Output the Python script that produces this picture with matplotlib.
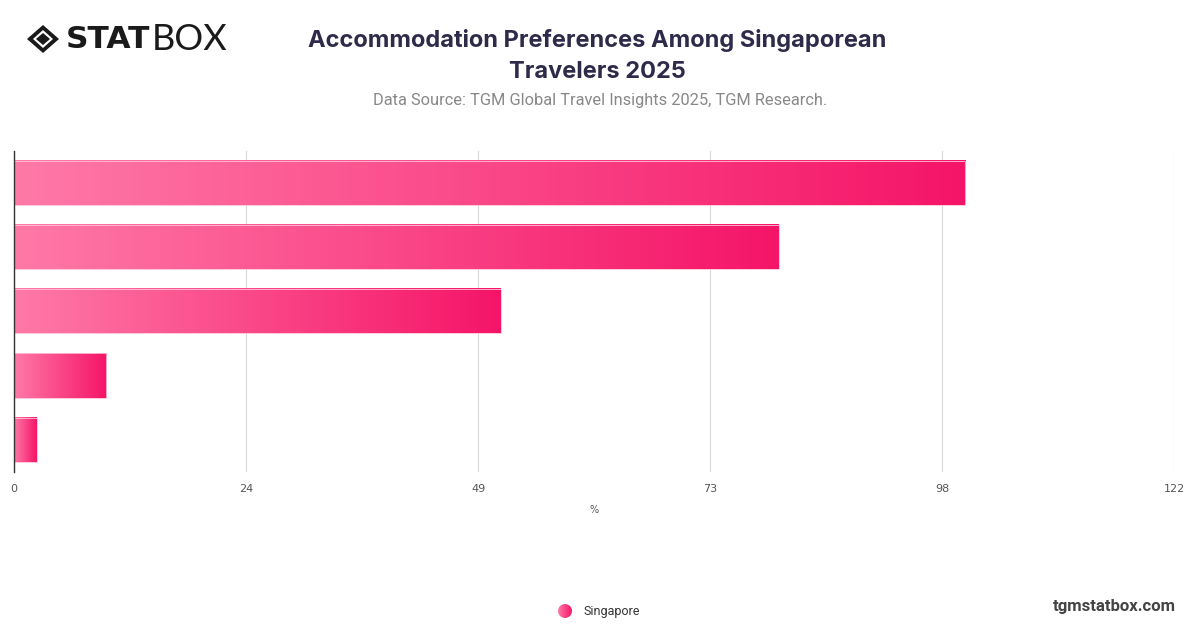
import numpy as np
import matplotlib
matplotlib.use("Agg")
import matplotlib.pyplot as plt
from matplotlib.colors import LinearSegmentedColormap
from matplotlib.patches import Polygon, Rectangle

# Data
series_name = "Singapore"
values = [100.0, 80.4, 51.2, 9.7, 2.4]
x_max = 122
tick_values = np.linspace(0, x_max, 6)
tick_labels = [f"{v:.0f}" for v in tick_values]

title = "Accommodation Preferences Among Singaporean\nTravelers 2025"
subtitle = "Data Source: TGM Global Travel Insights 2025, TGM Research."

# Gradient pink
pink = LinearSegmentedColormap.from_list("pink", ["#ff79a7", "#f51568"])
grad = np.linspace(0, 1, 256).reshape(1, -1)

fig = plt.figure(figsize=(12, 6.28), dpi=100)
fig.patch.set_facecolor("white")

ax = fig.add_axes([14 / 1200, 1 - 471.7 / 628, (1174.3 - 14) / 1200, (471.7 - 151) / 628])

bar_h = 0.6875
for i, v in enumerate(values):
    ax.imshow(grad, cmap=pink, aspect="auto", interpolation="bicubic",
              extent=(0, v, i + bar_h / 2, i - bar_h / 2), zorder=2)
    ax.add_patch(Rectangle((0, i - bar_h / 2), v, bar_h, fill=False,
                           edgecolor="#ffc2d6", linewidth=0.6, zorder=3))

ax.set_xlim(0, x_max)
ax.set_ylim(len(values) - 0.5, -0.5)

ax.set_xticks(tick_values)
ax.set_xticklabels(tick_labels)
ax.tick_params(axis="x", length=0, pad=9, labelsize=8, labelcolor="#555555")
ax.set_yticks([])
ax.grid(axis="x", color="#d9d9d9", linewidth=0.8, zorder=0)
for s in ["top", "right", "bottom"]:
    ax.spines[s].set_visible(False)
ax.spines["left"].set_color("#333333")
ax.spines["left"].set_linewidth(1.0)
ax.spines["left"].set_zorder(4)
ax.set_xlabel("%", fontsize=7, color="#555555", labelpad=8)

# Titles
fig.text(597 / 1200, 1 - 56 / 628, title, ha="center", va="center",
         fontsize=17, fontweight="bold", color="#2e2b4a",
         family=["Inter", "DejaVu Sans"], linespacing=1.5)
fig.text(600 / 1200, 1 - 101 / 628, subtitle, ha="center", va="center",
         fontsize=11.8, color="#888888", family=["Roboto", "DejaVu Sans"])

# Logo
lx, ly, hw, hh = 43, 39, 16, 14
def px(x, y):
    return (x / 1200, 1 - y / 628)
fig.patches.append(Polygon([px(lx - hw, ly), px(lx, ly - hh), px(lx + hw, ly), px(lx, ly + hh)],
                           closed=True, facecolor="#1a1a1a", transform=fig.transFigure))
fig.patches.append(Polygon([px(lx - 10, ly), px(lx, ly - 9), px(lx + 10, ly), px(lx, ly + 9)],
                           closed=True, facecolor="white", transform=fig.transFigure))
fig.patches.append(Polygon([px(lx - 7, ly), px(lx, ly - 6), px(lx + 7, ly), px(lx, ly + 6)],
                           closed=True, facecolor="#1a1a1a", transform=fig.transFigure))
fig.text(66 / 1200, 1 - 40 / 628, "STAT", ha="left", va="center", fontsize=22.5,
         fontweight="heavy", color="#1a1a1a", family=["DejaVu Sans"])
fig.text(152 / 1200, 1 - 40 / 628, "BOX", ha="left", va="center", fontsize=26,
         fontweight="normal", color="#1a1a1a", family=["Lato", "DejaVu Sans"])

# Legend
lax = fig.add_axes([558 / 1200, 1 - 618 / 628, 14 / 1200, 14 / 628])
lax.set_xlim(-1, 1)
lax.set_ylim(-1, 1)
circ = plt.Circle((0, 0), 1, transform=lax.transData)
im = lax.imshow(grad, cmap=pink, extent=(-1, 1, -1, 1), aspect="auto")
im.set_clip_path(circ)
lax.axis("off")
fig.text(583 / 1200, 1 - 611 / 628, series_name, ha="left", va="center",
         fontsize=9, color="#333333", family=["Roboto", "DejaVu Sans"])

fig.text(1176 / 1200, 1 - 606 / 628, "tgmstatbox.com", ha="right", va="center",
         fontsize=12, fontweight="bold", color="#444444", family=["Roboto", "DejaVu Sans"])

fig.savefig("out.png", dpi=100)
